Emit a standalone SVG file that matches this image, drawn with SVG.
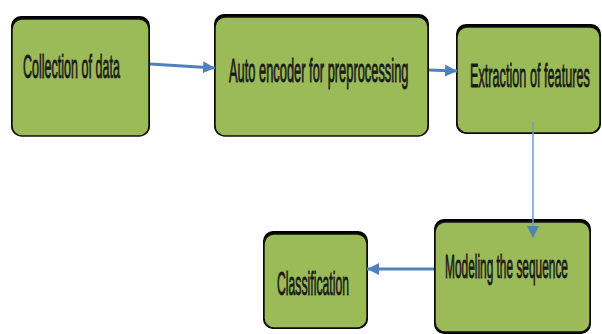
<svg xmlns="http://www.w3.org/2000/svg" width="602" height="334" viewBox="0 0 602 334">
<style>
.sh{fill:#000}
.bx{fill:#9BBB59;stroke:#111;stroke-width:1.5}
.t{font-family:"Liberation Sans",Arial,sans-serif;font-size:33px;fill:#1a1a1a;stroke:#1a1a1a;stroke-width:0.9}
.c{fill:none;stroke:#4F81BD;stroke-width:3}
.cv{fill:none;stroke:#6F9AD0;stroke-width:1.5}
</style>
<defs>
<marker id="ah" viewBox="0 0 10 10" refX="10" refY="5" markerWidth="4" markerHeight="4.5" orient="auto" markerUnits="strokeWidth">
<path d="M0,0 L10,5 L0,10 Z" fill="#4F81BD"/>
</marker>
<marker id="ahv" viewBox="0 0 10 10" refX="10" refY="5" markerWidth="10" markerHeight="8" orient="auto" markerUnits="strokeWidth">
<path d="M0,0 L10,5 L0,10 Z" fill="#4F81BD"/>
</marker>
</defs>
<rect width="602" height="334" fill="#fff"/>
<g id="n1">
<rect class="sh" x="11" y="16" width="139" height="120" rx="10"/>
<rect class="bx" x="12" y="19" width="137" height="117" rx="10"/>
<text class="t" transform="translate(23,78) scale(0.38,1)">Collection of data</text>
</g>
<g id="n2">
<rect class="sh" x="214" y="14" width="215" height="122" rx="10"/>
<rect class="bx" x="215" y="17" width="213" height="119" rx="10"/>
<text class="t" transform="translate(229,82) scale(0.39,1)">Auto encoder for preprocessing</text>
</g>
<g id="n3">
<rect class="sh" x="456" y="24" width="145" height="110" rx="10"/>
<rect class="bx" x="457" y="27" width="143" height="106" rx="10"/>
<text class="t" transform="translate(470,87) scale(0.3845,1)">Extraction of features</text>
</g>
<g id="n4">
<rect class="sh" x="434" y="219" width="157" height="115" rx="10"/>
<rect class="bx" x="435" y="222" width="155" height="110" rx="10"/>
<text class="t" transform="translate(445,278) scale(0.3605,1)">Modeling the sequence</text>
</g>
<g id="n5">
<rect class="sh" x="263" y="231" width="105" height="98" rx="10"/>
<rect class="bx" x="264" y="234" width="103" height="94" rx="10"/>
<text class="t" transform="translate(277,295) scale(0.3705,1)">Classification</text>
</g>
<g id="connectors">
<path class="c" d="M150,64 L215,68" marker-end="url(#ah)"/>
<path class="c" d="M429,70 L457,71" marker-end="url(#ah)"/>
<path class="cv" d="M533,122 L533,238" marker-end="url(#ahv)"/>
<path class="c" d="M434,269 L367,269" marker-end="url(#ah)"/>
</g>
</svg>
